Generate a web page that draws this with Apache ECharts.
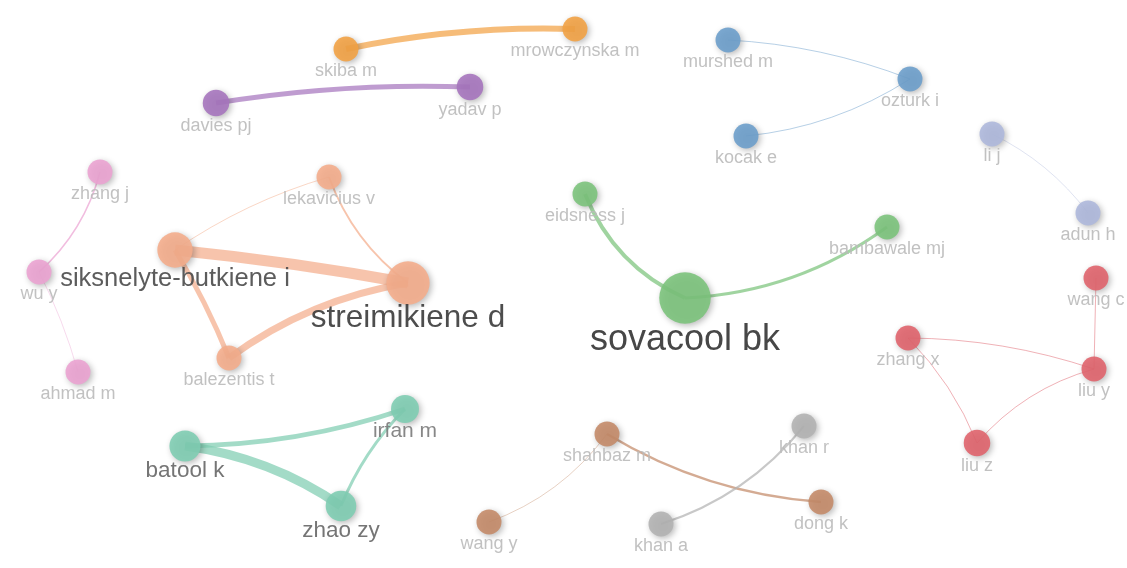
<!DOCTYPE html>
<html><head><meta charset="utf-8">
<script src="https://cdn.jsdelivr.net/npm/echarts@6/dist/echarts.min.js"></script>
<style>html,body{margin:0;padding:0;background:#fff}#c{width:1127px;height:568px}</style>
</head><body><div id="c"></div>
<script>
// Node data (VOSviewer-style map coordinates, screen-down y)
const names = ['skiba m','mrowczynska m','davies pj','yadav p','murshed m','ozturk i','kocak e','li j','adun h','zhang j','lekavicius v','eidsness j','bambawale mj','siksnelyte-butkiene i','wu y','streimikiene d','sovacool bk','wang c','zhang x','liu y','ahmad m','balezentis t','irfan m','batool k','zhao zy','liu z','shahbaz m','khan r','dong k','wang y','khan a'];
const mapX = [346,575,216,470,728,910,746,992,1088,100,329,585,887,175,39,408,685,1096,908,1094,78,229,405,185,341,977,607,804,821,489,661];
const mapY = [49,29,103,87,40,79,136,134,213,172,177,194,227,250,272,283,298,278,338,369,372,358,409,446,506,443,434,426,502,522,524];
const weights = [4,4,4.5,4.5,4,4,4,4,4,4,4,4,4,8,4,12,17,4,4,4,4,4,5,6.2,6,4.5,4,4,4,4,4];
const clusters = [0,0,1,1,2,2,2,3,3,4,5,6,6,5,4,5,6,7,7,7,4,5,8,8,8,7,9,10,9,9,10];
// Links
const linkSource = ['skiba m','davies pj','murshed m','kocak e','li j','zhang j','wu y','lekavicius v','lekavicius v','siksnelyte-butkiene i','siksnelyte-butkiene i','balezentis t','eidsness j','sovacool bk','wang c','zhang x','zhang x','liu z','batool k','batool k','irfan m','shahbaz m','shahbaz m','khan a'];
const linkTarget = ['mrowczynska m','yadav p','ozturk i','ozturk i','adun h','wu y','ahmad m','siksnelyte-butkiene i','streimikiene d','streimikiene d','balezentis t','streimikiene d','sovacool bk','bambawale mj','liu y','liu y','liu z','liu y','irfan m','zhao zy','zhao zy','dong k','wang y','khan r'];
const linkStrength = [6,5,1,1,0.8,1.5,0.8,1,2,11,5,7,4,3,1,1,1,1,5,9,3,2.5,0.8,2];

// styling (not data)
const clusterColors = ['#f2a245','#a676be','#6d9fcb','#aeb8dc','#eba3d2','#f4ad8c','#7cc37c','#e0646d','#7fcdb2','#c48b69','#b3b3b3'];
const linkCurves = [0.06,0.05,0.08,-0.12,0.12,0.15,0.05,-0.08,-0.15,0.02,0.04,0.12,-0.2,-0.15,0,0.08,0.1,0.15,-0.08,0.12,-0.1,-0.12,0.15,-0.15];

function hexA(h,a){const n=parseInt(h.slice(1),16);return 'rgba('+(n>>16)+','+((n>>8)&255)+','+(n&255)+','+a+')';}
function fontFor(w){return w<5?18:w<6?21:w<8?22.5:w<12?25.5:w<17?31.5:36;}
function colorFor(w){return w>=17?'#333':w>=12?'#3a3a3a':w>=8?'#4a4a4a':w>=6?'#666':w>=5?'#7a7a7a':'#bababa';}

const nodes = names.map((n,i)=>{
  const w = weights[i];
  const d = 12.5*Math.sqrt(w);
  const col = clusterColors[clusters[i]];
  return {
    name:n, x:mapX[i], y:mapY[i], symbolSize:d,
    itemStyle:{color:col, opacity:0.9, shadowBlur:6, shadowColor:'rgba(0,0,0,0.3)', shadowOffsetX:2, shadowOffsetY:2},
    label:{show:true, position:'bottom', distance:w<5?1:-2, fontSize:fontFor(w), color:colorFor(w), fontFamily:'Liberation Sans, Arial, sans-serif'}
  };
});
const nameIdx = {}; names.forEach((n,i)=>nameIdx[n]=i);
const links = linkSource.map((s,i)=>{
  const col = clusterColors[clusters[nameIdx[s]]];
  const w = linkStrength[i];
  return {source:s, target:linkTarget[i],
    lineStyle:{width:w, color:hexA(col, w<1.5?0.5:0.72), curveness:linkCurves[i], opacity:1}};
});

const chart = echarts.init(document.getElementById('c'));
chart.setOption({
  backgroundColor:'#fff',
  animation:false,
  series:[{
    type:'graph', layout:'none', roam:false,
    left:39, top:29, width:1057, height:495,
    data:nodes, links:links,
    emphasis:{disabled:true},
    labelLayout:{hideOverlap:false}
  }]
});
</script></body></html>
